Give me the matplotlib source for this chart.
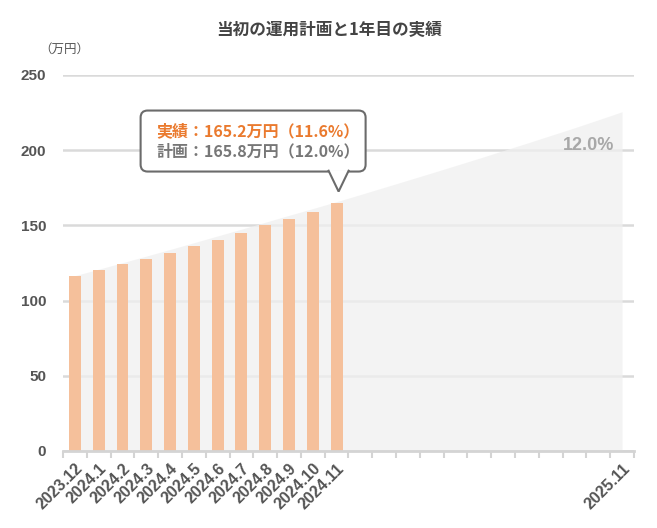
import matplotlib
matplotlib.use("Agg")
import matplotlib.pyplot as plt
from matplotlib.patches import FancyBboxPatch, Polygon
from matplotlib.lines import Line2D
from matplotlib.transforms import IdentityTransform

plt.rcParams['font.family'] = ['Noto Sans CJK JP', 'DejaVu Sans']

# ---- data ----
months = ["2023.12", "2024.1", "2024.2", "2024.3", "2024.4", "2024.5", "2024.6",
          "2024.7", "2024.8", "2024.9", "2024.10", "2024.11", "2024.12", "2025.1",
          "2025.2", "2025.3", "2025.4", "2025.5", "2025.6", "2025.7", "2025.8",
          "2025.9", "2025.10", "2025.11"]
shown_labels = ["2023.12", "2024.1", "2024.2", "2024.3", "2024.4", "2024.5", "2024.6",
                "2024.7", "2024.8", "2024.9", "2024.10", "2024.11", "2025.11"]
actual = [116.4, 120.3, 124.3, 127.7, 131.6, 136.3, 140.3, 145.0, 150.3, 154.3, 159.0, 165.2]
plan = [116.6, 120.9, 125.2, 129.6, 134.0, 138.5, 143.0, 147.5, 152.1, 156.7, 161.2, 165.8,
        170.5, 175.3, 180.1, 184.9, 189.8, 194.7, 199.7, 204.7, 209.8, 214.9, 220.2, 225.6]
yticks = [0, 50, 100, 150, 200, 250]
title = "当初の運用計画と1年目の実績"
unit = "（万円）"
tip_actual = "実績：165.2万円（11.6%）"
tip_plan = "計画：165.8万円（12.0%）"
end_label = "12.0%"

W, H = 657, 528
fig = plt.figure(figsize=(W / 100, H / 100), dpi=100)
ax = fig.add_axes([63 / W, 1 - 451 / H, (634 - 63) / W, (451 - 75) / H])

x = list(range(len(months)))
ax.fill_between(x, 0, plan, color="#F0F0F0", alpha=0.75, lw=0, zorder=1)
ax.bar(x[:len(actual)], actual, width=0.5, color="#F5C09B", zorder=2)

ax.set_xlim(-0.5, len(months) - 0.5)
ax.set_ylim(0, 250)
ax.set_yticks(yticks)
ax.set_yticklabels([str(v) for v in yticks], fontsize=11, fontweight="bold",
                   color="#555555", family=["Liberation Sans", "DejaVu Sans"])
ax.tick_params(axis="y", length=0, pad=12)
ax.grid(axis="y", color="#DADADA", lw=1.8, zorder=0)
ax.set_axisbelow(True)
for s in ["top", "right", "left"]:
    ax.spines[s].set_visible(False)
ax.spines["bottom"].set_color("#D4D4D4")
ax.spines["bottom"].set_linewidth(2)
ax.spines["bottom"].set_zorder(3)

labels = [m if m in shown_labels else "" for m in months]
ax.set_xticks(x)
ax.set_xticklabels(labels, rotation=45, ha="right", va="top", rotation_mode="anchor",
                   fontsize=11.5, fontweight="bold", color="#555555",
                   family=["Liberation Sans", "DejaVu Sans"])
ax.tick_params(axis="x", which="major", length=0, pad=7)
ax.set_xticks([i - 0.5 for i in range(len(months) + 1)], minor=True)
ax.tick_params(axis="x", which="minor", length=5, width=1.5, color="#D4D4D4")

# title and unit
fig.text(329 / W, 1 - 30 / H, title, ha="center", va="center", fontsize=12,
         fontweight="bold", color="#444444")
fig.text(64 / W, 1 - 49 / H, unit, ha="center", va="center", fontsize=9, color="#555555")

# end label
ax.annotate(end_label, xy=(x[-1], plan[-1]), xytext=(-6, -24), textcoords="offset points",
            ha="right", va="center", fontsize=13, fontweight="bold", color="#A8A8A8",
            family=["Liberation Sans", "DejaVu Sans"], zorder=4)

# tooltip
fig.canvas.draw()
px, py = ax.transData.transform((len(actual) - 1, actual[-1]))
tipx, tipy = px + 2, py + 11
box_l, box_r = tipx - 198, tipx + 27
box_b = tipy + 20
box_t = box_b + 61
ident = IdentityTransform()
box = FancyBboxPatch((box_l, box_b), box_r - box_l, box_t - box_b,
                     boxstyle="round,pad=0,rounding_size=7", transform=ident,
                     facecolor="white", edgecolor="#6B6B6B", lw=1.5, zorder=10)
fig.add_artist(box)
ptr = Polygon([(tipx - 10, box_b + 1.5), (tipx, tipy), (tipx + 10, box_b + 1.5)],
              closed=True, transform=ident, facecolor="white", edgecolor="none", zorder=11)
fig.add_artist(ptr)
fig.add_artist(Line2D([tipx - 10, tipx, tipx + 10], [box_b + 0.8, tipy, box_b + 0.8],
                      transform=ident, color="#6B6B6B", lw=1.5, zorder=12,
                      solid_joinstyle="miter"))
fig.text(box_l + 16, box_t - 21, tip_actual, transform=ident, ha="left", va="center",
         fontsize=11.5, fontweight="bold", color="#EA7A2E", zorder=13)
fig.text(box_l + 16, box_t - 41, tip_plan, transform=ident, ha="left", va="center",
         fontsize=11.5, fontweight="bold", color="#777777", zorder=13)

fig.savefig("out.png", dpi=100, facecolor="white")
